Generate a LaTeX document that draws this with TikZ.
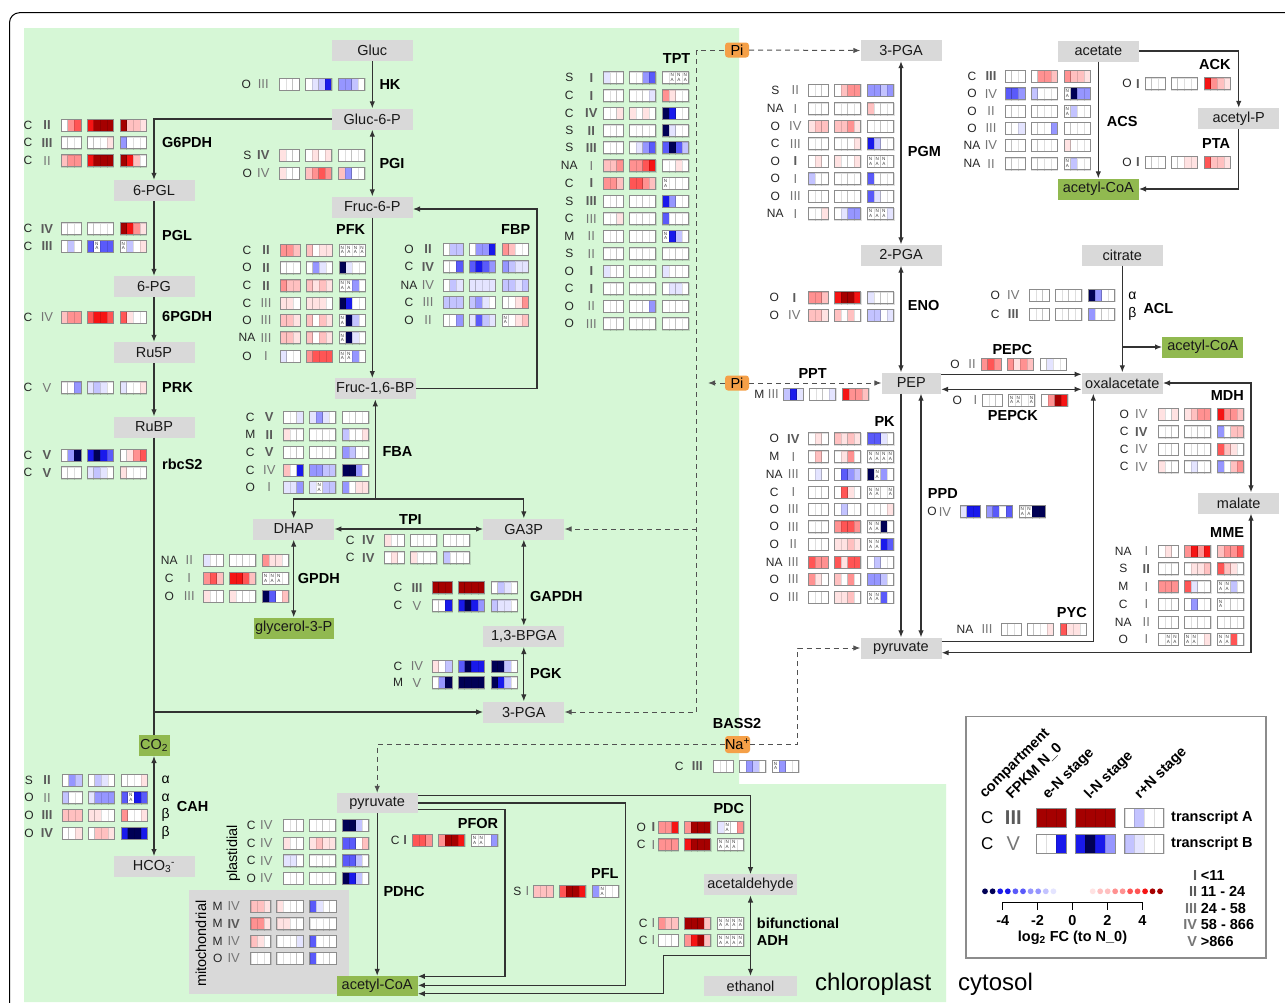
\documentclass[tikz,border=0pt]{standalone}
\usepackage{fontspec}
\setmainfont{Liberation Sans}
\usetikzlibrary{arrows.meta,calc}
\newcommand\fsz[1]{\fontsize{#1}{#1}\selectfont}
\definecolor{chl}{RGB}{214,247,214}
\definecolor{metg}{RGB}{217,217,217}
\definecolor{metgreen}{RGB}{145,185,80}
\definecolor{pio}{RGB}{245,160,72}
\definecolor{numreg}{RGB}{118,118,118}
\definecolor{numdark}{RGB}{90,90,90}
\definecolor{boxln}{RGB}{140,140,140}
\definecolor{lnc}{RGB}{50,50,50}
\definecolor{c0}{RGB}{255,255,255}
\definecolor{c1}{RGB}{255,226,226}
\definecolor{c2}{RGB}{255,192,192}
\definecolor{c3}{RGB}{255,145,145}
\definecolor{c4}{RGB}{255,85,85}
\definecolor{c5}{RGB}{245,20,20}
\definecolor{c6}{RGB}{165,0,0}
\definecolor{ca}{RGB}{228,228,255}
\definecolor{cb}{RGB}{195,195,255}
\definecolor{cc}{RGB}{150,150,255}
\definecolor{cd}{RGB}{90,90,250}
\definecolor{ce}{RGB}{25,25,235}
\definecolor{cf}{RGB}{0,0,85}
\definecolor{cn}{RGB}{255,255,255}
\newcounter{nidx}
\newcommand\Bn[1]{{\bfseries\color{numdark}#1}}
\newcommand\hmbox[6]{%
  \foreach \hmc [count=\hmi from 0] in {#6} {%
    \filldraw[fill=c\hmc, draw=black, draw opacity=0.13, line width=0.4pt] ({#1+\hmi*#3},{#2-#4/2}) rectangle ({#1+(\hmi+1)*#3},{#2+#4/2});
    \if n\hmc
      \stepcounter{nidx}%
      \node[natxt] (na\arabic{nidx}) at ({#1+(\hmi+0.5)*#3},#2) {N\\A};
    \fi
  }%
  \draw[boxln, line width=0.8pt] ({#1},{#2-#4/2}) rectangle ({#1+#5*#3},{#2+#4/2});
}
\newcommand\hmLO{33}
\newcommand\hmNO{15}
\newcommand\hrow[7]{%
  \stepcounter{nidx}%
  \node[rowlet] (rl\arabic{nidx}) at ({#1-\hmLO},#2) {#3};
  \node[rownum] (rn\arabic{nidx}) at ({#1-\hmNO},#2) {#4};
  \hmbox{#1}{#2}{6.667}{12}{3}{#5}%
  \hmbox{#1+26}{#2}{6.6}{12}{4}{#6}%
  \hmbox{#1+59}{#2}{6.6}{12}{4}{#7}%
}
\newcommand\setoff[2]{\renewcommand\hmLO{#1}\renewcommand\hmNO{#2}}
\tikzset{
  natxt/.style={font=\fsz{4.6}, inner sep=0, align=center, text=black!75},
  rowlet/.style={font=\fsz{12}, inner sep=0, text=black!85},
  rownum/.style={font=\fsz{13}, inner sep=0, text=numreg},
  met/.style={fill=metg, inner sep=0, minimum width=81, minimum height=21, font=\fsz{14.5}, text=black!90},
  metgr/.style={met, fill=metgreen},
  pibox/.style={fill=pio, rounded corners=3, inner sep=0, minimum width=24, minimum height=15, font=\fsz{14.5}},
  enz/.style={font=\fsz{14.5}\bfseries, inner sep=0, anchor=west},
  grk/.style={font=\fsz{14}, inner sep=0},
  ln/.style={draw=lnc, line width=1.1pt},
  arr/.style={ln, -{Latex[length=7pt,width=5.5pt]}},
  darr/.style={ln, {Latex[length=7pt,width=5.5pt]}-{Latex[length=7pt,width=5.5pt]}},
  dsh/.style={draw=lnc!85, line width=1pt, dash pattern=on 5pt off 4pt},
  dsharr/.style={dsh, -{Latex[length=7pt,width=5.5pt]}},
  hdr/.style={font=\fsz{14.5}\bfseries, rotate=45, anchor=base west, inner sep=0},
  lgt/.style={font=\fsz{14.5}\bfseries, inner sep=0},
}
\begin{document}
\begin{tikzpicture}[x=1pt,y=-1pt]
\clip (0,0) rectangle (1285,1002);
\fill[white] (0,0) rectangle (1285,1002);
\fill[chl] (24,28) -- (739,28) -- (739,784) -- (946,784) -- (946,1002) -- (24,1002) -- cycle;
\draw[line width=1pt, rounded corners=10] (9.5,1030) -- (9.5,12.7) -- (1320,12.7);
% mitochondrial box
\fill[metg] (189,890.3) rectangle (349,993.7);
% legend box
\draw[boxln, line width=1.1pt, fill=white] (966,716.3) rectangle (1266,958);

% ---------- metabolites
\node[met] (glc) at (372.3,50.5) {Gluc};
\node[met] (g6p) at (372.3,119) {Gluc-6-P};
\node[met] (f6p) at (372.3,207) {Fruc-6-P};
\node[met] (fbp) at (375.3,388.7) {Fruc-1,6-BP};
\node[met] (pgl) at (154,190.5) {6-PGL};
\node[met] (pg) at (154,286.5) {6-PG};
\node[met] (ru5p) at (154,352.5) {Ru5P};
\node[met] (rubp) at (154,427) {RuBP};
\node[met] (dhap) at (293.7,529) {DHAP};
\node[metgr, minimum width=80] (g3p) at (293.7,628) {glycerol-3-P};
\node[met] (ga3p) at (523.8,529) {GA3P};
\node[met] (bpga) at (523.8,636.3) {1,3-BPGA};
\node[met] (pga3) at (523.8,712) {3-PGA};
\node[metgr, minimum width=31] (co2) at (154,745.3) {CO\textsubscript{2}};
\node[met] (hco3) at (154,866.7) {HCO\textsubscript{3}\textsuperscript{-}};
\node[met, minimum height=20] (pyrp) at (377.2,803) {pyruvate};
\node[metgr, minimum height=20] (acoap) at (377.2,986) {acetyl-CoA};
\node[met, minimum width=92.4] (acald) at (750.5,884.8) {acetaldehyde};
\node[met, minimum width=92.4, minimum height=20] (etoh) at (750.5,986) {ethanol};
\node[pibox] (pi1) at (737,50) {Pi};
\node[pibox] (pi2) at (737,383) {Pi};
\node[pibox, minimum width=25, minimum height=17] (na) at (737.5,744.5) {Na\textsuperscript{+}};
\node[met] (pga3c) at (901,50.5) {3-PGA};
\node[met] (pga2) at (901,255) {2-PGA};
\node[met, minimum width=59.3] (pep) at (911.3,383) {PEP};
\node[met] (pyrc) at (901,648) {pyruvate};
\node[met] (oaa) at (1122.3,383) {oxalacetate};
\node[met] (mal) at (1238.7,503) {malate};
\node[met] (cit) at (1122.3,255) {citrate};
\node[met] (ace) at (1098.3,51) {acetate};
\node[metgr] (acoa1) at (1098.3,189) {acetyl-CoA};
\node[met] (acp) at (1238.7,118.5) {acetyl-P};
\node[metgr] (acoa2) at (1202.7,347) {acetyl-CoA};

% ---------- connectors (chloroplast)
\draw[arr] (glc) -- (g6p);
\draw[darr] (g6p) -- (f6p);
\draw[arr] (g6p.west) -| (pgl.north);
\draw[arr] (pgl) -- (pg);
\draw[arr] (pg) -- (ru5p);
\draw[arr] (ru5p) -- (rubp);
\draw[ln] (rubp.south) -- (co2.north);
\draw[arr] (rubp.south |- pga3.west) -- (pga3.west);
\draw[darr] (co2) -- (hco3);
\draw[arr] (f6p.south) -- (f6p.south |- fbp.north);
\draw[arr] (fbp.east) -| ([xshift=124,yshift=-2]f6p.east) -- ([yshift=-2]f6p.east);
\coordinate (fbaj) at (375.3,499);
\draw[arr] (fbaj) -- (fbp.south);
\draw[arr] (fbaj) -| (dhap.north);
\draw[arr] (fbaj) -| (ga3p.north);
\draw[darr] (dhap) -- (ga3p);
\draw[darr] (dhap) -- (g3p);
\draw[darr] (ga3p) -- (bpga);
\draw[darr] (bpga) -- (pga3);
\draw[arr] (pyrp) -- (acoap);
\draw[arr] ([yshift=7.7]pyrp.east) -| (acald.north);
\draw[arr] (pyrp.east) -| (625.7,985.3) -- ([yshift=0.7]acoap.east);
\draw[arr] ([yshift=-6.3]pyrp.east) -| (505,976.3) -- ([yshift=9.7]acoap.east);
\draw[darr] (acald) -- (etoh);
\coordinate (adhj) at (750.5,955.3);
\draw[arr] (adhj) -| (663.3,993.7) -- ([yshift=-7.7]acoap.east);

% ---------- dashed transport
\coordinate (dv) at (696.7,50);
\draw[dsharr] (pi1.east) -- (pga3c.west);
\draw[dsh, {Latex[length=7pt,width=5.5pt]}-] (pga3.east) -| (dv) -- (pi1.west);
\draw[dsharr] (dv |- ga3p.east) -- (ga3p.east);
\coordinate (pil) at (708,383);
\draw[dsharr] (pi2.west) -- (pil);
\draw[dsharr] (pi2.east) -- (pep.west);
\coordinate (nar) at (797.7,744.5);
\draw[dsharr] (na.east) -- (nar) |- (pyrc.west);
\draw[dsharr] (na.west) -| (pyrp.north);

% ---------- connectors (cytosol)
\draw[darr] (pga3c) -- (pga2);
\draw[darr] (pga2.south) -- (pga2.south |- pep.north);
\draw[arr] (pga2.south |- pep.south) -- (pga2.south |- pyrc.north);
\draw[darr] ([xshift=9.7]pep.south) -- ([xshift=9.7]pep.south |- pyrc.north);
\draw[arr] ([yshift=8.7]pep.east) -- ([yshift=8.7]oaa.west);
\draw[darr] ([yshift=-6.3]pep.east) -- ([yshift=-6.3]oaa.west);
\draw[arr] (cit) -- (oaa);
\draw[arr] (cit.south |- acoa2.west) -- (acoa2.west);
\draw[darr] (oaa.east) -| ([xshift=12.3]mal.north);
\draw[darr] ([xshift=12.3]mal.south) |- ([yshift=-4.7]pyrc.east);
\draw[arr] ([yshift=6.3]pyrc.east) -| ([xshift=-29]oaa.south);
\draw[arr] (ace) -- (acoa1);
\draw[arr] (ace.east) -| (acp.north);
\draw[arr] (acp.south) |- (acoa1.east);

% ---------- enzyme labels
\node[enz] (eHK) at (379.3,84.3) {HK};
\node[enz] (eG6PDH) at (162,142.7) {G6PDH};
\node[enz] (ePGI) at (379.3,164) {PGI};
\node[enz] (ePGL) at (162,236) {PGL};
\node[enz] (e6PGDH) at (162,317) {6PGDH};
\node[enz] (ePRK) at (162,387.7) {PRK};
\node[enz] (erbcS) at (162,464.7) {rbcS2};
\node[enz] (ePFK) at (336,230) {PFK};
\node[enz] (eFBP) at (501,230) {FBP};
\node[enz] (eTPT) at (662.7,59) {TPT};
\node[enz] (eFBA) at (382.3,451.7) {FBA};
\node[enz] (eTPI) at (399,519.3) {TPI};
\node[enz] (eGPDH) at (297.7,578.3) {GPDH};
\node[enz] (eGAPDH) at (530,596.7) {GAPDH};
\node[enz] (ePGK) at (530,673.7) {PGK};
\node[enz] (eCAH) at (176.7,806.3) {CAH};
\node[enz] (ePDHC) at (383.3,891.3) {PDHC};
\node[enz] (ePFOR) at (457.7,823) {PFOR};
\node[enz] (ePFL) at (591,873) {PFL};
\node[enz] (ePDC) at (713.3,808.7) {PDC};
\node[enz] (eBif) at (756.7,923) {bifunctional};
\node[enz] (eADH) at (756.7,940.3) {ADH};
\node[enz] (eBASS) at (712.7,723) {BASS2};
\node[enz] (ePGM) at (907.7,152) {PGM};
\node[enz] (eENO) at (907.7,305.7) {ENO};
\node[enz] (ePPT) at (798.3,374) {PPT};
\node[enz] (ePK) at (874.3,421.7) {PK};
\node[enz] (ePPD) at (927.7,493.3) {PPD};
\node[enz] (ePEPC) at (992.3,350) {PEPC};
\node[enz] (ePEPCK) at (987.7,415.3) {PEPCK};
\node[enz] (ePYC) at (1056.7,612.7) {PYC};
\node[enz] (eMDH) at (1210.7,395.7) {MDH};
\node[enz] (eMME) at (1210,532.3) {MME};
\node[enz] (eACK) at (1199,65) {ACK};
\node[enz] (ePTA) at (1202,144) {PTA};
\node[enz] (eACS) at (1106.7,122) {ACS};
\node[enz] (eACL) at (1143.3,308.3) {ACL};
\node[grk] (gc1) at (165.7,780) {α};
\node[grk] (gc2) at (165.7,797.7) {α};
\node[grk] (gc3) at (165.7,815.3) {β};
\node[grk] (gc4) at (165.7,833) {β};
\node[grk] (ga1) at (1132.3,295.3) {α};
\node[grk] (ga2) at (1132.3,314) {β};
\node[font=\fsz{14.5}, rotate=90, inner sep=0] (plast) at (233.3,853.5) {plastidial};
\node[font=\fsz{14.5}, rotate=90, inner sep=0] (mito) at (201,943.7) {mitochondrial};
\node[font=\fsz{24}, anchor=base west, inner sep=0] (chlt) at (815,990.5) {chloroplast};
\node[font=\fsz{24}, anchor=base west, inner sep=0] (cytt) at (958,990.5) {cytosol};

% ---------- heat map rows
% HK
\setoff{33}{16}
\hrow{279.3}{84.3}{O}{III}{0,0,0}{0,a,b,e}{c,c,b,0}
% G6PDH
\setoff{33}{14}
\hrow{61}{125.3}{C}{\Bn{II}}{0,3,4}{5,6,6,6}{6,2,2,1}
\hrow{61}{142.7}{C}{\Bn{III}}{0,0,0}{0,0,0,1}{c,0,0,0}
\hrow{61}{160.7}{C}{II}{2,3,3}{5,6,6,6}{6,5,2,0}
% PGL
\hrow{61}{228.7}{C}{\Bn{IV}}{0,0,0}{0,0,0,0}{6,5,3,1}
\hrow{61}{246}{C}{\Bn{III}}{0,b,0}{d,n,d,d}{n,b,0,1}
% 6PGDH, PRK, rbcS2
\hrow{61}{317}{C}{IV}{2,3,3}{4,5,5,4}{4,1,0,0}
\hrow{61}{387.7}{C}{V}{0,0,c}{a,b,a,0}{a,0,0,1}
\hrow{61}{455.3}{C}{\Bn{V}}{0,c,f}{e,f,e,d}{0,1,3,4}
\hrow{61}{472.7}{C}{\Bn{V}}{0,0,0}{a,b,a,0}{1,0,0,0}
% PGI
\setoff{32}{16}
\hrow{279.3}{155}{S}{\Bn{IV}}{1,0,0}{0,1,0,1}{0,0,0,0}
\hrow{279.3}{173.3}{O}{IV}{1,0,0}{2,3,4,3}{2,c,0,0}
% PFK
\setoff{33}{14}
\hrow{280}{250}{C}{\Bn{II}}{3,3,2}{2,0,1,1}{n,n,n,n}
\hrow{280}{267.7}{O}{\Bn{II}}{0,0,0}{0,c,a,0}{f,a,0,0}
\hrow{280}{285.7}{C}{\Bn{II}}{3,2,2}{2,1,2,1}{n,n,c,0}
\hrow{280}{303.3}{C}{III}{1,1,0}{1,1,1,0}{f,e,0,0}
\hrow{280}{320.3}{O}{III}{2,2,1}{2,0,2,1}{n,f,b,0}
\hrow{280}{337.8}{NA}{III}{2,2,1}{2,0,2,1}{n,f,a,0}
\hrow{280}{356}{O}{I}{a,0,0}{3,4,4,4}{n,n,c,0}
% FBP
\setoff{34}{15}
\hrow{443}{249.3}{O}{\Bn{II}}{0,b,b}{0,c,c,e}{3,2,0,0}
\hrow{443}{266.7}{C}{\Bn{IV}}{0,0,d}{d,e,d,c}{c,b,a,a}
\hrow{443}{285}{NA}{IV}{0,b,a}{a,a,a,a}{b,b,a,b}
\hrow{443}{302.3}{C}{III}{b,b,b}{b,c,a,0}{0,0,1,3}
\hrow{443}{320}{O}{II}{0,0,c}{a,d,b,a}{n,0,1,2}
% TPT
\setoff{34}{12}
\hrow{603.3}{77.7}{S}{\Bn{I}}{a,0,0}{0,0,c,d}{0,n,n,n}
\hrow{603.3}{95.7}{C}{\Bn{I}}{0,0,0}{0,0,0,a}{3,1,0,0}
\hrow{603.3}{113.3}{C}{\Bn{IV}}{0,0,1}{1,0,1,0}{f,e,0,0}
\hrow{603.3}{130.7}{S}{\Bn{II}}{0,0,0}{0,0,0,0}{f,a,0,0}
\hrow{603.3}{147.7}{S}{\Bn{III}}{0,0,0}{0,a,c,d}{d,f,d,b}
\hrow{603.3}{165.7}{NA}{I}{2,2,3}{3,3,4,5}{0,0,1,0}
\hrow{603.3}{183.3}{C}{\Bn{I}}{3,3,2}{4,4,3,2}{n,0,0,0}
\hrow{603.3}{201}{S}{\Bn{III}}{0,0,0}{0,0,0,0}{e,c,0,0}
\hrow{603.3}{218.7}{C}{III}{0,0,1}{0,0,0,0}{d,0,0,0}
\hrow{603.3}{236}{M}{II}{0,0,0}{0,0,0,0}{n,e,b,0}
\hrow{603.3}{253.7}{S}{II}{0,0,0}{0,0,0,0}{0,0,0,0}
\hrow{603.3}{271}{O}{\Bn{I}}{a,0,0}{0,0,0,0}{a,0,0,0}
\hrow{603.3}{288.7}{C}{\Bn{I}}{0,0,0}{0,0,0,0}{0,a,a,0}
\hrow{603.3}{306}{O}{II}{0,0,0}{0,0,0,c}{0,0,0,0}
\hrow{603.3}{323.7}{O}{III}{0,0,0}{0,0,0,0}{0,0,0,0}
% FBA
\setoff{33}{14}
\hrow{283.3}{417.3}{C}{\Bn{V}}{0,0,a}{a,c,a,0}{0,0,0,0}
\hrow{283.3}{434.7}{M}{\Bn{II}}{1,0,0}{0,0,0,0}{b,0,0,1}
\hrow{283.3}{452.3}{C}{\Bn{V}}{0,0,0}{0,0,0,0}{c,b,0,0}
\hrow{283.3}{470}{C}{IV}{2,0,e}{c,c,b,b}{f,f,c,0}
\hrow{283.3}{487.3}{O}{I}{a,a,c}{a,n,b,b}{c,0,1,1}
% TPI
\setoff{34}{16}
\hrow{384.3}{540}{C}{\Bn{IV}}{1,0,0}{0,0,0,0}{0,0,0,0}
\hrow{384.3}{557.7}{C}{\Bn{IV}}{0,1,0}{1,0,0,0}{b,0,0,0}
% GPDH
\setoff{34}{14}
\hrow{203.3}{560.3}{NA}{II}{a,0,0}{0,0,0,0}{3,1,1,0}
\hrow{203.3}{578.3}{C}{I}{3,4,2}{5,5,4,2}{n,n,n,0}
\hrow{203.3}{596}{O}{III}{1,0,0}{1,0,0,0}{f,d,0,2}
% GAPDH, PGK
\setoff{34}{15}
\hrow{432}{587.7}{C}{\Bn{III}}{6,6,6}{6,6,6,6}{0,b,a,0}
\hrow{432}{605.7}{C}{V}{0,0,e}{e,f,e,c}{b,a,a,0}
\hrow{432}{666}{C}{IV}{1,0,b}{d,f,e,e}{f,f,b,0}
\hrow{432}{682.7}{M}{V}{0,c,f}{f,f,f,f}{f,e,b,0}
% CAH
\setoff{33}{15}
\hrow{62}{780}{S}{\Bn{II}}{0,c,b}{0,b,a,0}{0,0,0,1}
\hrow{62}{797.7}{O}{II}{b,0,0}{a,c,c,c}{d,n,e,d}
\hrow{62}{815.3}{O}{\Bn{III}}{2,2,2}{1,1,0,0}{3,0,0,1}
\hrow{62}{833}{O}{\Bn{IV}}{0,0,1}{0,2,2,1}{e,f,f,e}
% plastidial PDHC
\setoff{32}{17}
\hrow{283.3}{825.3}{C}{IV}{0,0,0}{0,0,0,0}{f,f,b,0}
\hrow{283.3}{843}{C}{IV}{1,0,0}{1,2,1,1}{d,d,0,2}
\hrow{283.3}{860.7}{C}{IV}{a,a,0}{0,0,0,0}{d,d,b,0}
\hrow{283.3}{878}{O}{IV}{0,0,0}{0,0,0,0}{f,e,b,0}
% mitochondrial PDHC
\setoff{33}{17}
\hrow{250.7}{906.3}{M}{IV}{2,2,1}{1,0,0,0}{d,a,0,0}
\hrow{250.7}{923.7}{M}{\Bn{IV}}{3,3,1}{1,1,0,0}{0,0,0,0}
\hrow{250.7}{941.3}{M}{IV}{2,1,0}{0,0,0,a}{d,0,0,0}
\hrow{250.7}{958}{O}{IV}{0,0,0}{0,0,0,0}{d,0,0,0}
% PFOR, PFL, PDC, ADH
\setoff{17}{7}
\hrow{412.3}{840.3}{C}{\Bn{I}}{4,4,3}{3,6,6,5}{n,n,0,c}
\setoff{16}{6}
\hrow{533.3}{891.3}{S}{I}{2,2,2}{4,6,6,5}{c,n,0,0}
\setoff{17}{5}
\hrow{658.3}{827.3}{O}{\Bn{I}}{3,3,5}{3,6,6,6}{a,n,0,3}
\hrow{658.3}{844.7}{C}{I}{3,3,3}{5,6,6,6}{n,n,n,0}
\setoff{15}{5}
\hrow{658.3}{923}{C}{I}{3,2,2}{6,6,6,2}{n,n,n,n}
\hrow{658.3}{940.3}{C}{I}{0,0,0}{3,5,6,2}{n,n,n,n}
% BASS2
\setoff{34}{16}
\hrow{713.3}{766}{C}{\Bn{III}}{0,0,0}{0,c,b,0}{n,c,0,0}
% PGM
\setoff{33}{13}
\hrow{808.3}{90.3}{S}{II}{0,0,0}{0,2,3,3}{c,c,b,c}
\hrow{808.3}{108.7}{NA}{I}{0,0,0}{0,0,0,0}{2,0,0,0}
\hrow{808.3}{126}{O}{IV}{1,2,2}{2,2,3,1}{0,0,0,0}
\hrow{808.3}{143.7}{C}{III}{0,0,0}{0,0,0,1}{e,b,0,0}
\hrow{808.3}{161.3}{O}{\Bn{I}}{0,1,0}{1,0,0,1}{n,n,n,0}
\hrow{808.3}{178.7}{O}{I}{b,0,0}{0,0,0,0}{d,0,0,0}
\hrow{808.3}{196}{O}{III}{0,0,0}{0,0,0,0}{d,a,0,0}
\hrow{808.3}{213.7}{NA}{I}{0,0,1}{0,a,c,c}{n,n,n,a}
% ENO
\setoff{34}{14}
\hrow{808.3}{297.7}{O}{\Bn{I}}{3,3,2}{5,6,6,5}{a,0,0,0}
\hrow{808.3}{315.3}{O}{IV}{2,2,1}{2,0,2,0}{b,b,0,a}
% PPT
\setoff{24}{10}
\hrow{783.3}{394.3}{M}{III}{b,e,a}{0,0,0,a}{5,3,3,2}
% PK
\setoff{34}{15}
\hrow{808.3}{438.7}{O}{\Bn{IV}}{0,1,0}{2,1,2,1}{d,d,a,0}
\hrow{808.3}{456.7}{M}{I}{0,2,0}{0,1,3,0}{n,n,n,n}
\hrow{808.3}{474.3}{NA}{III}{0,a,0}{0,d,c,b}{f,n,c,0}
\hrow{808.3}{492}{C}{I}{0,0,0}{0,4,1,0}{n,n,0,n}
\hrow{808.3}{509}{O}{III}{0,0,0}{0,b,0,0}{0,0,0,1}
\hrow{808.3}{526.7}{O}{III}{0,0,0}{3,4,4,3}{n,n,f,0}
\hrow{808.3}{544.3}{O}{II}{0,0,0}{1,1,2,1}{n,n,e,d}
\hrow{808.3}{562}{NA}{III}{4,3,3}{4,1,4,4}{0,b,0,0}
\hrow{808.3}{579.3}{O}{III}{3,1,0}{2,0,3,0}{c,c,b,0}
\hrow{808.3}{597}{O}{III}{0,0,0}{1,1,2,0}{n,n,d,0}
% PPD
\setoff{28}{15}
\hrow{960}{511.7}{O}{IV}{a,e,e}{c,d,0,d}{n,n,f,f}
% PEPC, PEPCK
\setoff{26}{9}
\hrow{981}{364.3}{O}{II}{3,4,3}{3,1,3,2}{0,a,0,0}
\setoff{25}{7}
\hrow{982.3}{400}{O}{I}{0,0,0}{n,n,0,n}{0,3,6,5}
% PYC
\setoff{36}{14}
\hrow{1001}{629.3}{NA}{III}{0,0,0}{0,0,0,1}{4,1,1,0}
% MDH
\setoff{34}{17}
\hrow{1158.3}{414.3}{O}{IV}{1,0,1}{1,2,3,3}{5,3,3,2}
\hrow{1158.3}{431.7}{C}{\Bn{IV}}{0,0,0}{0,0,0,0}{c,0,2,2}
\hrow{1158.3}{449}{C}{IV}{0,0,0}{0,0,0,0}{4,2,1,0}
\hrow{1158.3}{466.7}{C}{IV}{1,0,0}{0,a,0,0}{c,0,2,3}
% MME
\setoff{35}{12}
\hrow{1158.3}{551}{NA}{I}{0,1,0}{3,5,3,5}{2,3,3,4}
\hrow{1158.3}{568.7}{S}{\Bn{II}}{0,0,0}{0,1,1,2}{4,2,1,0}
\hrow{1158.3}{586.7}{M}{I}{3,3,3}{4,a,0,0}{n,n,b,0}
\hrow{1158.3}{604}{C}{I}{0,0,0}{0,c,0,0}{n,0,0,0}
\hrow{1158.3}{622}{NA}{II}{0,0,0}{0,0,0,0}{0,0,0,0}
\hrow{1158.3}{639.3}{O}{I}{0,n,n}{n,n,0,1}{n,n,4,0}
% ACS
\setoff{33}{14}
\hrow{1005}{76}{C}{\Bn{III}}{0,0,0}{0,3,3,2}{3,2,2,1}
\hrow{1005}{93.7}{O}{IV}{d,d,c}{b,0,0,0}{n,f,c,c}
\hrow{1005}{111.3}{O}{II}{0,0,0}{0,0,0,0}{n,b,0,0}
\hrow{1005}{128}{O}{III}{0,0,a}{0,0,0,c}{0,0,0,0}
\hrow{1005}{145.3}{NA}{IV}{0,0,0}{0,0,0,0}{1,0,0,0}
\hrow{1005}{163.7}{NA}{II}{0,0,0}{0,0,0,0}{n,b,0,0}
% ACK, PTA
\setoff{18}{7}
\hrow{1145}{83.7}{O}{\Bn{I}}{0,0,0}{0,0,0,0}{5,3,2,1}
\hrow{1145}{162.3}{O}{\Bn{I}}{0,0,0}{0,0,1,1}{4,2,2,1}
% ACL
\setoff{34}{16}
\hrow{1029.3}{295.3}{O}{IV}{0,0,0}{0,0,0,0}{f,c,0,0}
\hrow{1029.3}{314}{C}{\Bn{III}}{0,0,0}{0,0,0,0}{c,0,0,0}

% ---------- legend
\node[hdr] (h1) at (985,799) {compartment};
\node[hdr] (h2) at (1011.7,800) {FPKM N\_0};
\node[hdr] (h3) at (1048,800) {e-N stage};
\node[hdr] (h4) at (1090,800) {l-N stage};
\node[hdr] (h5) at (1140,800) {r+N stage};
\node[font=\fsz{17}, inner sep=0] (lc1) at (987.3,817.7) {C};
\node[font=\fsz{20}\bfseries, text=numdark, inner sep=0] (ln1) at (1013.3,817.7) {III};
\hmbox{1036.3}{817.7}{10}{19}{3}{6,6,6}
\hmbox{1075.3}{817.7}{9.9}{19}{4}{6,6,6,6}
\hmbox{1124.7}{817.7}{9.75}{19}{4}{0,b,0,0}
\node[font=\fsz{17}, inner sep=0] (lc2) at (987.3,843.7) {C};
\node[font=\fsz{20}, text=numreg, inner sep=0] (ln2) at (1013.3,843.7) {V};
\hmbox{1036.3}{843.7}{10}{19}{3}{0,0,e}
\hmbox{1075.3}{843.7}{9.9}{19}{4}{e,f,e,c}
\hmbox{1124.7}{843.7}{9.75}{19}{4}{b,a,0,0}
\node[lgt, anchor=west] (ta) at (1171,817.7) {transcript A};
\node[lgt, anchor=west] (tb) at (1171,843.7) {transcript B};
\foreach \col [count=\k from 0] in {f,f,e,e,d,d,c,c,b,a}
  \fill[fill=c\col] ({985+\k*7.6},891.3) circle[radius=2.9];
\foreach \col [count=\k from 0] in {1,2,2,3,3,4,4,5,6,6}
  \fill[fill=c\col] ({1092.7+\k*7.48},891.3) circle[radius=2.9];
\coordinate (ax0) at (1002.7,902);
\coordinate (ax1) at (1142.3,902);
\draw[line width=1pt] (ax0) -- (ax1);
\foreach \xx/\lab [count=\k] in {1002.7/-4,1037.6/-2,1072.5/0,1107.4/2,1142.3/4} {
  \draw[line width=1pt] (\xx,902) -- (\xx,910.3);
  \node[lgt] (axl\k) at (\xx,920.3) {\lab};
}
\node[lgt] (axt) at (1072.5,938) {log\textsubscript{2} FC (to N\_0)};
\node[lgt, anchor=east, text=numdark] (f1n) at (1197.3,875.3) {I};
\node[lgt, anchor=east, text=numdark] (f2n) at (1197.3,891.3) {II};
\node[lgt, anchor=east, text=numreg] (f3n) at (1197.3,908.3) {III};
\node[lgt, anchor=east, text=numreg] (f4n) at (1197.3,924.3) {IV};
\node[lgt, anchor=east, text=numreg] (f5n) at (1197.3,941) {V};
\node[lgt, anchor=west] (f1t) at (1200.7,875.3) {<11};
\node[lgt, anchor=west] (f2t) at (1200.7,891.3) {11 - 24};
\node[lgt, anchor=west] (f3t) at (1200.7,908.3) {24 - 58};
\node[lgt, anchor=west] (f4t) at (1200.7,924.3) {58 - 866};
\node[lgt, anchor=west] (f5t) at (1200.7,941) {>866};
\end{tikzpicture}
\end{document}
